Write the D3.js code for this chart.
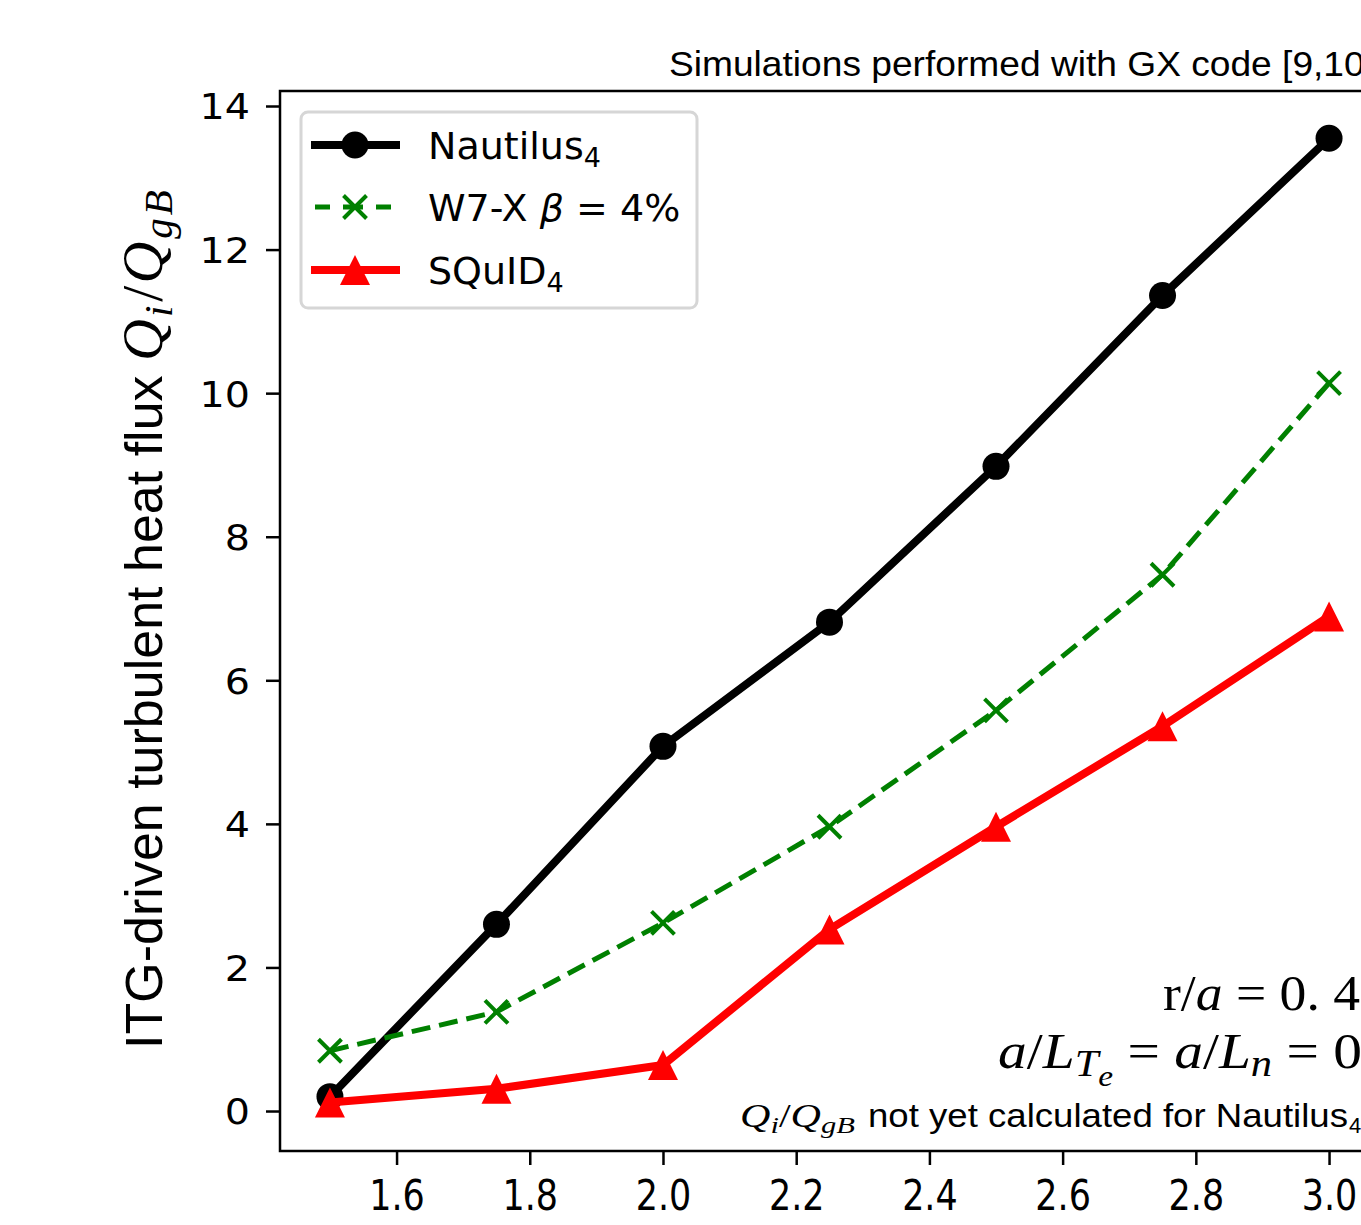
<!DOCTYPE html>
<html><head><meta charset="utf-8">
<script src="https://cdn.jsdelivr.net/npm/d3@7"></script>
<style>
body{margin:0;background:#fff;}
svg{display:block;}
</style></head>
<body>
<svg id="chart" width="1361" height="1225"></svg>
<script>
// ---- data ----
const xValues = [1.5, 1.75, 2.0, 2.25, 2.5, 2.75, 3.0];
const nautilus = [0.20, 2.60, 5.08, 6.81, 8.98, 11.36, 13.55];
const w7x      = [0.84, 1.38, 2.62, 3.96, 5.58, 7.47, 10.14];
const squid    = [0.12, 0.31, 0.64, 2.53, 3.96, 5.36, 6.89];
const xTicks = [1.6, 1.8, 2.0, 2.2, 2.4, 2.6, 2.8, 3.0];
const yTicks = [0, 2, 4, 6, 8, 10, 12, 14];

const svg = d3.select("#chart");
const L = 280, R = 1379, T = 91, B = 1151;
const x = d3.scaleLinear().domain([1.425, 3.075]).range([L, R]);
const y = d3.scaleLinear().domain([-0.557, 14.209]).range([B, T]);
const sans = "Liberation Sans, Arial, sans-serif";
const serif = "Liberation Serif, Times New Roman, serif";

// title
svg.append("text").attr("x", 669).attr("y", 76)
  .attr("textLength", 706).attr("lengthAdjust", "spacingAndGlyphs")
  .style("font-family", sans).style("font-size", "35px")
  .text("Simulations performed with GX code [9,10]");

// axes
const xAxis = svg.append("g").attr("transform", `translate(0,${B})`)
  .call(d3.axisBottom(x).tickValues(xTicks).tickFormat(d3.format(".1f")).tickSize(14).tickPadding(6));
const yAxis = svg.append("g").attr("transform", `translate(${L},0)`)
  .call(d3.axisLeft(y).tickValues(yTicks).tickFormat(d3.format("d")).tickSize(14).tickPadding(10));
[xAxis, yAxis].forEach(g => {
  g.select(".domain").remove();
  g.selectAll(".tick line").attr("stroke", "#000").attr("stroke-width", 2.5);
  g.selectAll(".tick text").style("font-family", "DejaVu Sans, sans-serif").style("font-size", "36px").attr("fill", "#000");
});
xAxis.selectAll(".tick text").attr("dy", null).attr("y", 0)
  .attr("transform", "translate(0,59) scale(0.97,1.18)");
yAxis.selectAll(".tick text").attr("x", 0).attr("dy", "0.36em")
  .attr("transform", "translate(-30,0) scale(1.1,1)");

// spines
svg.append("rect").attr("x", L).attr("y", T).attr("width", R - L).attr("height", B - T)
  .attr("fill", "none").attr("stroke", "#000").attr("stroke-width", 2.5);

const line = d3.line().x((d, i) => x(xValues[i])).y(d => y(d));

// Nautilus
svg.append("path").datum(nautilus).attr("d", line).attr("fill", "none")
  .attr("stroke", "#000").attr("stroke-width", 8).attr("stroke-linejoin", "round");
svg.selectAll(".nc").data(nautilus).enter().append("circle")
  .attr("cx", (d, i) => x(xValues[i])).attr("cy", d => y(d)).attr("r", 13.5).attr("fill", "#000");

// W7-X
svg.append("path").datum(w7x).attr("d", line).attr("fill", "none")
  .attr("stroke", "#008000").attr("stroke-width", 5).attr("stroke-dasharray", "19,9");
const xm = 11.5;
const crossPath = (cx, cy) => `M${cx - xm},${cy - xm}L${cx + xm},${cy + xm}M${cx - xm},${cy + xm}L${cx + xm},${cy - xm}`;
svg.selectAll(".wx").data(w7x).enter().append("path")
  .attr("d", (d, i) => crossPath(x(xValues[i]), y(d)))
  .attr("stroke", "#008000").attr("stroke-width", 4).attr("fill", "none");

// SQuID
svg.append("path").datum(squid).attr("d", line).attr("fill", "none")
  .attr("stroke", "#ff0000").attr("stroke-width", 8).attr("stroke-linejoin", "round");
const ts = 15;
const triPath = (cx, cy) => `M${cx},${cy - ts}L${cx - ts},${cy + ts}L${cx + ts},${cy + ts}Z`;
svg.selectAll(".st").data(squid).enter().append("path")
  .attr("d", (d, i) => triPath(x(xValues[i]), y(d))).attr("fill", "#ff0000");

// legend
const lg = svg.append("g");
lg.append("rect").attr("x", 301).attr("y", 112).attr("width", 396).attr("height", 196)
  .attr("rx", 7).attr("fill", "#fff").attr("fill-opacity", 0.8)
  .attr("stroke", "#d6d6d6").attr("stroke-width", 3);
const rows = [145, 207, 270];
const hx0 = 311, hx1 = 400, hc = 355;
lg.append("line").attr("x1", hx0).attr("x2", hx1).attr("y1", rows[0]).attr("y2", rows[0])
  .attr("stroke", "#000").attr("stroke-width", 8);
lg.append("circle").attr("cx", hc).attr("cy", rows[0]).attr("r", 13.5).attr("fill", "#000");
lg.append("line").attr("x1", hx0 + 4).attr("x2", hx1 - 4).attr("y1", rows[1]).attr("y2", rows[1])
  .attr("stroke", "#008000").attr("stroke-width", 5).attr("stroke-dasharray", "15,13,20,13");
lg.append("path").attr("d", crossPath(hc, rows[1])).attr("stroke", "#008000").attr("stroke-width", 4).attr("fill", "none");
lg.append("line").attr("x1", hx0).attr("x2", hx1).attr("y1", rows[2]).attr("y2", rows[2])
  .attr("stroke", "#ff0000").attr("stroke-width", 8);
lg.append("path").attr("d", triPath(hc, rows[2])).attr("fill", "#ff0000");

const lgFont = "DejaVu Sans, sans-serif";
const t1 = lg.append("text").attr("x", 428).attr("y", rows[0] + 14).style("font-family", lgFont).style("font-size", "38px");
t1.append("tspan").text("Nautilus");
t1.append("tspan").attr("dy", 8).style("font-size", "27px").text("4");
const t2 = lg.append("text").attr("x", 428).attr("y", rows[1] + 14).style("font-family", lgFont).style("font-size", "38px");
t2.append("tspan").text("W7-X ");
t2.append("tspan").style("font-style", "italic").text("β");
t2.append("tspan").text(" = 4%");
const t3 = lg.append("text").attr("x", 428).attr("y", rows[2] + 14).style("font-family", lgFont).style("font-size", "38px");
t3.append("tspan").text("SQuID");
t3.append("tspan").attr("dy", 8).style("font-size", "27px").text("4");

// y label
const yl = svg.append("text").attr("transform", `translate(162,${(T + B) / 2 - 3}) rotate(-90)`)
  .attr("text-anchor", "middle").style("font-family", sans).style("font-size", "52px");
yl.append("tspan").text("ITG-driven turbulent heat flux ");
yl.append("tspan").style("font-family", serif).style("font-style", "italic").style("font-size", "58px").text("Q");
yl.append("tspan").attr("dy", 10).attr("dx", 2).style("font-family", serif).style("font-style", "italic").style("font-size", "41px").text("i");
yl.append("tspan").attr("dy", -10).attr("dx", 4).style("font-family", serif).style("font-size", "58px").text("/");
yl.append("tspan").attr("dx", 2).style("font-family", serif).style("font-style", "italic").style("font-size", "58px").text("Q");
yl.append("tspan").attr("dy", 10).attr("dx", 3).attr("letter-spacing", 3).style("font-family", serif).style("font-style", "italic").style("font-size", "41px").text("gB");

// annotations
const a1 = svg.append("text").attr("x", 1163).attr("y", 1010)
  .attr("textLength", 197).attr("lengthAdjust", "spacingAndGlyphs")
  .style("font-family", serif).style("font-size", "50px");
a1.append("tspan").text("r/");
a1.append("tspan").style("font-style", "italic").text("a");
a1.append("tspan").text(" = 0. 4");

const a2 = svg.append("text").attr("x", 998).attr("y", 1068)
  .attr("textLength", 364).attr("lengthAdjust", "spacingAndGlyphs")
  .style("font-family", serif).style("font-size", "50px");
a2.append("tspan").style("font-style", "italic").text("a");
a2.append("tspan").text("/");
a2.append("tspan").style("font-style", "italic").text("L");
a2.append("tspan").attr("dy", 8).style("font-style", "italic").style("font-size", "37px").text("T");
a2.append("tspan").attr("dy", 10).style("font-style", "italic").style("font-size", "29px").text("e");
a2.append("tspan").attr("dy", -18).text(" = ");
a2.append("tspan").style("font-style", "italic").text("a");
a2.append("tspan").text("/");
a2.append("tspan").style("font-style", "italic").text("L");
a2.append("tspan").attr("dy", 8).style("font-style", "italic").style("font-size", "37px").text("n");
a2.append("tspan").attr("dy", -8).text(" = 0");

const a3 = svg.append("text").attr("x", 740).attr("y", 1127)
  .attr("textLength", 115).attr("lengthAdjust", "spacingAndGlyphs")
  .style("font-family", serif).style("font-size", "33px");
a3.append("tspan").style("font-style", "italic").text("Q");
a3.append("tspan").attr("dy", 6).style("font-style", "italic").style("font-size", "24px").text("i");
a3.append("tspan").attr("dy", -6).text("/");
a3.append("tspan").style("font-style", "italic").text("Q");
a3.append("tspan").attr("dy", 6).style("font-style", "italic").style("font-size", "24px").text("gB");
svg.append("text").attr("x", 868).attr("y", 1127)
  .attr("textLength", 480).attr("lengthAdjust", "spacingAndGlyphs")
  .style("font-family", sans).style("font-size", "33px")
  .text("not yet calculated for Nautilus");
svg.append("text").attr("x", 1349).attr("y", 1133)
  .style("font-family", sans).style("font-size", "22px").text("4");
</script>
</body></html>
